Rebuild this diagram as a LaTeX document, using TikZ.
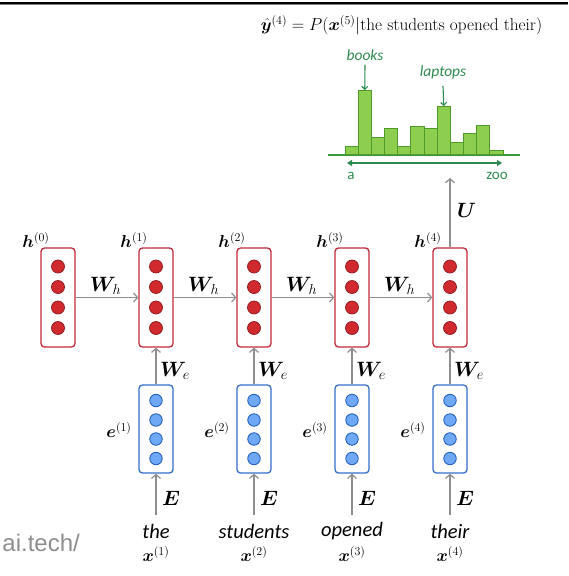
\documentclass[tikz,border=0pt]{standalone}
\usepackage{amsmath}
\usepackage{bm}
\usepackage{fontspec}
\newfontfamily\wordfont{Carlito}
\newfontfamily\wmfont{Liberation Sans}
\usetikzlibrary{arrows.meta,calc}
\definecolor{hred}{HTML}{C4283C}
\definecolor{cred}{HTML}{D12A2E}
\definecolor{cdred}{HTML}{8C1A1E}
\definecolor{eblue}{HTML}{3470CC}
\definecolor{cblue}{HTML}{6FA8F4}
\definecolor{cdblue}{HTML}{1E5BBE}
\definecolor{agray}{HTML}{8E8E8E}
\definecolor{gfill}{HTML}{8DCE4E}
\definecolor{gedge}{HTML}{4E9A2A}
\definecolor{gline}{HTML}{3A9A3A}
\definecolor{gtext}{HTML}{2E8B50}
\tikzset{
  hbox/.style={draw=hred, line width=1.3pt, rounded corners=3.5pt, minimum width=34pt, minimum height=99pt, inner sep=0pt, fill=white},
  ebox/.style={draw=eblue, line width=1.3pt, rounded corners=3.5pt, minimum width=34pt, minimum height=88pt, inner sep=0pt, fill=white},
  rc/.style={circle, fill=cred, draw=cdred, line width=0.7pt, minimum size=13pt, inner sep=0pt},
  bc/.style={circle, fill=cblue, draw=cdblue, line width=0.8pt, minimum size=12.5pt, inner sep=0pt},
  conn/.style={draw=agray, line width=1.4pt, -{Straight Barb[length=4pt,width=9pt,line width=1.2pt]}},
  lbl/.style={font=\fontsize{18.5}{20}\selectfont, inner sep=0pt},
  wlbl/.style={font=\fontsize{19.5}{21}\selectfont, inner sep=0pt},
  word/.style={font=\wordfont\itshape\fontsize{20.5}{22}\selectfont, inner sep=0pt},
  bar/.style={draw=gedge, fill=gfill, line width=0.9pt, minimum width=13.2pt, inner sep=0pt, anchor=south},
  gtxt/.style={text=gtext, font=\wordfont\fontsize{15}{17}\selectfont, inner sep=0pt},
  garrow/.style={draw=gtext, line width=1.1pt, -{Straight Barb[length=3pt,width=6pt]}}
}
\begin{document}
\begin{tikzpicture}[x=1pt,y=-1pt]
\useasboundingbox (0,0) rectangle (568,576);
\fill[white] (0,0) rectangle (568,576);
% top rule
\draw[line width=2.2pt, black] (0,3) -- (568,3);
\draw[line width=0.6pt, gray] (0,4.6) -- (568,4.6);

% title
\node[inner sep=0pt, font=\fontsize{17.2}{19}\selectfont] (title) at (401.5,25) {$\hat{\bm y}^{(4)} = P(\bm x^{(5)}|\text{the students opened their})$};

% histogram
\draw[gline, line width=1.8pt] (328,155) -- (520,155);
\foreach \i/\t in {1/147,2/91,3/138,4/129,5/147,6/127,7/129,8/107,9/143,10/134,11/126,12/151}{
  \pgfmathsetmacro{\bx}{345+13.17*(\i-0.5)}
  \pgfmathsetmacro{\bh}{155-\t}
  \node[bar, minimum height=\bh pt] (b\i) at (\bx,155) {};
}
\coordinate (ra) at (347,163);
\coordinate (rz) at (502,163);
\draw[gtext, line width=1.3pt, {Triangle[length=5pt,width=6pt]}-{Triangle[length=5pt,width=6pt]}] (ra) -- (rz);
\node[gtxt] (la) at (351,176) {a};
\node[gtxt] (lz) at (497,176) {zoo};
\node[gtxt, font=\wordfont\itshape\fontsize{15.5}{17}\selectfont] (books) at (365,55) {books};
\node[gtxt, font=\wordfont\itshape\fontsize{15.5}{17}\selectfont] (laptops) at (443,72) {laptops};
\draw[garrow] (books.south) ++(0,4) -- (b2.north);
\draw[garrow] (laptops.south) ++(0,7) -- (b8.north);

% hidden states
\foreach \i/\x in {0/58,1/156,2/254,3/352,4/450}{
  \node[hbox] (h\i) at (\x,297.5) {};
  \node[rc] (h\i a) at (\x,266.5) {};
  \node[rc] (h\i b) at (\x,287) {};
  \node[rc] (h\i c) at (\x,307.5) {};
  \node[rc] (h\i d) at (\x,328) {};
  \node[lbl] (hl\i) at (\x-22,240) {$\bm h^{(\i)}$};
}
% W_h connectors
\foreach \a/\b in {0/1,1/2,2/3,3/4}{
  \draw[conn] (h\a.east) -- (h\b.west);
  \node[wlbl, anchor=base west] (wh\a) at ($(h\a.east)+(14,-6)$) {$\bm W_h$};
}

% embeddings
\foreach \i/\x/\w in {1/156/the,2/254/students,3/352/opened,4/450/their}{
  \node[ebox] (e\i) at (\x,429) {};
  \node[bc] (e\i a) at (\x,400.5) {};
  \node[bc] (e\i b) at (\x,420) {};
  \node[bc] (e\i c) at (\x,439) {};
  \node[bc] (e\i d) at (\x,458.5) {};
  \node[lbl] (el\i) at (\x-37,430) {$\bm e^{(\i)}$};
  \draw[conn] (e\i.north) -- (h\i.south);
  \node[wlbl, anchor=base west] (we\i) at (\x+4,376) {$\bm W_e$};
  \node[word] (w\i) at (\x,531) {\w};
  \node[lbl] (x\i) at (\x,554) {$\bm x^{(\i)}$};
  \coordinate (ws\i) at (\x,515);
  \draw[conn] (ws\i) -- (e\i.south);
  \node[wlbl, anchor=base west] (E\i) at (\x+6,505) {$\bm E$};
}

% output
\coordinate (ytip) at (450,178);
\draw[conn] (h4.north) -- (ytip);
\node[wlbl, anchor=base west] (U) at (457,217) {$\bm U$};

% watermark
\node[font=\wmfont\fontsize{24}{26}\selectfont, text=agray, anchor=base east, inner sep=0pt] (wm) at (80,551) {ai.tech/};
\end{tikzpicture}
\end{document}
